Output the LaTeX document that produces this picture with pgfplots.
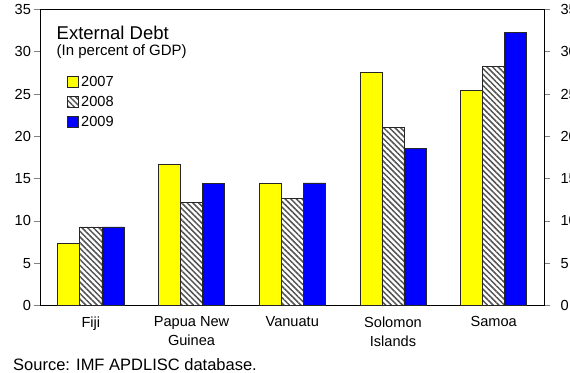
\documentclass[border=0pt]{standalone}
\usepackage{pgfplots}
\pgfplotsset{compat=1.18}
\usepackage{fontspec}
\setmainfont{Liberation Sans}
\usetikzlibrary{patterns.meta}
\definecolor{yel}{RGB}{255,255,0}
\definecolor{blu}{RGB}{0,0,255}
\newcommand{\lab}{\fontsize{14.6bp}{19bp}\selectfont}
\pgfplotsset{sqleg/.style={legend image code/.code={\draw[##1] (0bp,-6.5bp) rectangle (11bp,4.5bp);}}}
\begin{document}
\begin{tikzpicture}
\begin{axis}[
  scale only axis,
  width=503.5bp, height=296bp,
  xmin=-0.5, xmax=4.5, ymin=0, ymax=35,
  ybar=0pt, bar width=0.219,
  xtick={0,1,2,3,4},
  xticklabels={Fiji, Papua New\\Guinea, Vanuatu, Solomon\\Islands, Samoa},
  xticklabel style={align=center, font=\lab, yshift=-1.5bp},
  x tick style={draw=none},
  ytick={0,5,...,35}, ytick pos=left, tick align=outside, major tick length=6bp,
  yticklabel style={font=\lab},
  /pgf/number format/assume math mode=true,
  axis line style={line width=0.8bp},
  y tick style={line width=0.8bp},
  legend cell align=left,
  legend style={draw=none, fill=none, inner sep=0pt, outer sep=0pt,
    at={(0.0526,0.7782)}, anchor=north west, row sep=7.5bp, column sep=2bp,
    nodes={inner sep=0.5bp, text height=10.5bp, text depth=0pt, font=\lab}},
]
\addplot[fill=yel, draw=black!85, line width=0.7bp, sqleg]
  coordinates {(0,7.3) (1,16.7) (2,14.4) (3,27.6) (4,25.4)};
\addlegendentry{2007}
\addplot[pattern={Lines[angle=-45,distance=4bp,line width=1.5bp]}, pattern color=gray!65!black,
  draw=black!85, line width=0.7bp, sqleg]
  coordinates {(0,9.3) (1,12.2) (2,12.7) (3,21.1) (4,28.3)};
\addlegendentry{2008}
\addplot[fill=blu, draw=black!85, line width=0.7bp, sqleg]
  coordinates {(0,9.3) (1,14.4) (2,14.5) (3,18.6) (4,32.3)};
\addlegendentry{2009}
\coordinate (ll) at (rel axis cs:0,0);
\end{axis}
\begin{axis}[
  scale only axis,
  width=503.5bp, height=296bp,
  xmin=-0.5, xmax=4.5, ymin=0, ymax=35,
  hide x axis,
  ytick={0,5,...,35}, ytick pos=right, yticklabel pos=right,
  tick align=outside, major tick length=6bp,
  yticklabel style={font=\lab, xshift=7bp},
  /pgf/number format/assume math mode=true,
  axis line style={line width=0.8bp},
  y tick style={line width=0.8bp},
]
\addplot[draw=none] coordinates {(0,0)};
\end{axis}
\begin{scope}[shift={(ll)}, x=1bp, y=1bp]
\node[anchor=base west, inner sep=0, font=\fontsize{18.5bp}{22bp}\selectfont] at (16,266.2) {External Debt};
\node[anchor=base west, inner sep=0, font=\fontsize{15bp}{18bp}\selectfont] at (16,250.5) {(In percent of GDP)};
\node[anchor=base west, inner sep=0, font=\fontsize{16.5bp}{19bp}\selectfont] at (-27.5,-65) {Source: IMF APDLISC database.};
\end{scope}
\pgfresetboundingbox
\path[shift={(ll)}, x=1bp, y=1bp, use as bounding box] (-40.5,-66.5) rectangle (529.5,305.5);
\end{tikzpicture}
\end{document}
